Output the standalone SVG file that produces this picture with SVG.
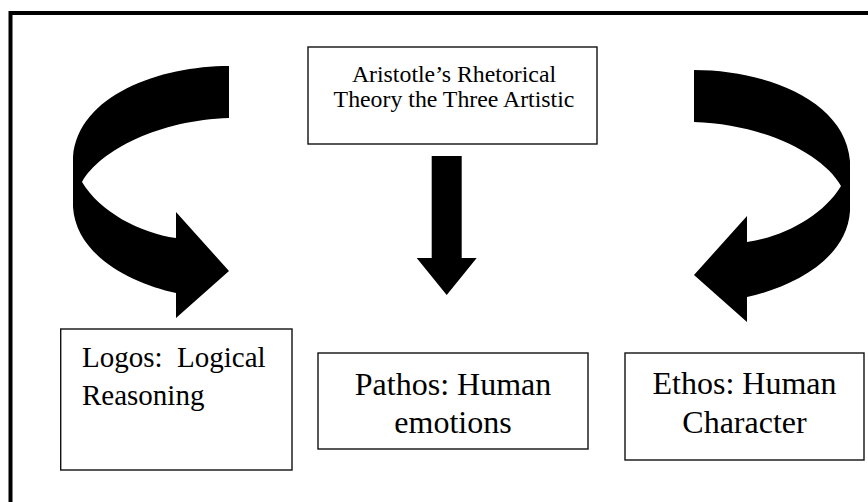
<svg xmlns="http://www.w3.org/2000/svg" xmlns:xlink="http://www.w3.org/1999/xlink" width="868" height="502" viewBox="0 0 868 502">
<style>
.box{fill:#fff;stroke:#111;stroke-width:1.4}
.t{font-family:"Liberation Serif","Times New Roman",serif;fill:#000}
.arr{fill:#000}
</style>
<defs>
<path id="curv" d="M229,66 C160,66 78,95 73,157 L73,207 C76,255 130,283 176,293 L176,318 L229,271 L176,212 L176,238 C140,233 100,212 82,182 C100,150 160,120 229,118 Z"/>
</defs>
<rect x="0" y="0" width="868" height="502" fill="#fff"/>
<path d="M10.5,502 L10.5,13 L868,13" fill="none" stroke="#000" stroke-width="4"/>
<g id="connectors">
<use xlink:href="#curv" class="arr"/>
<use xlink:href="#curv" class="arr" transform="translate(923,4) scale(-1,1)"/>
<path class="arr" d="M431.7,156 L461.7,156 L461.7,258 L476.7,258 L446.7,295 L416.7,258 L431.7,258 Z"/>
</g>
<g id="top">
<rect class="box" x="308" y="47" width="289" height="97"/>
<text class="t" font-size="23.8" text-anchor="middle"><tspan x="454" y="82">Aristotle’s Rhetorical</tspan><tspan x="454" y="107">Theory the Three Artistic</tspan></text>
</g>
<g id="logos">
<rect class="box" x="60.7" y="329" width="231.3" height="141"/>
<text class="t" font-size="29" xml:space="preserve"><tspan x="82" y="367">Logos:  Logical</tspan><tspan x="82" y="405">Reasoning</tspan></text>
</g>
<g id="pathos">
<rect class="box" x="318" y="353" width="270" height="96"/>
<text class="t" font-size="32" text-anchor="middle"><tspan x="453" y="395">Pathos: Human</tspan><tspan x="453" y="433">emotions</tspan></text>
</g>
<g id="ethos">
<rect class="box" x="625" y="353" width="239" height="107"/>
<text class="t" font-size="32" text-anchor="middle"><tspan x="744.5" y="394">Ethos: Human</tspan><tspan x="744.5" y="433">Character</tspan></text>
</g>
</svg>
